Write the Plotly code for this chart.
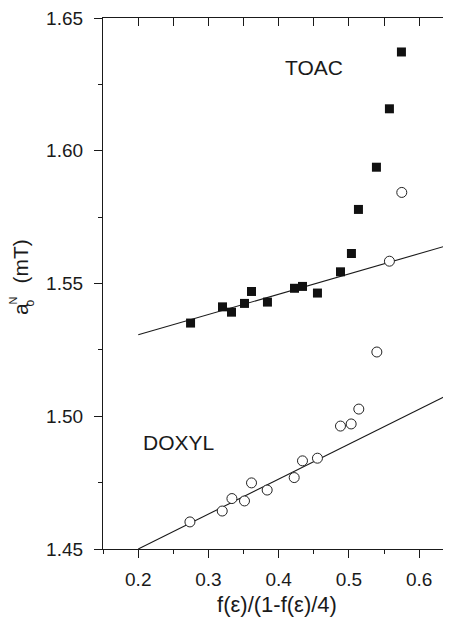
import plotly.graph_objects as go

# TOAC (filled squares)
toac_x = [0.2745, 0.320, 0.3328, 0.3513, 0.3613, 0.384, 0.4225, 0.4339, 0.4552,
          0.488, 0.5036, 0.5136, 0.5392, 0.5577, 0.5748]
toac_y = [1.5351, 1.5412, 1.5392, 1.5425, 1.5470, 1.5430, 1.5482, 1.5489, 1.5464,
          1.5544, 1.5613, 1.5779, 1.5938, 1.6158, 1.6372]

# DOXYL (open circles)
doxyl_x = [0.2736, 0.3196, 0.3334, 0.3513, 0.3613, 0.3836, 0.4221, 0.4339, 0.4552,
           0.488, 0.5032, 0.5141, 0.5398, 0.5577, 0.5753]
doxyl_y = [1.4602, 1.4643, 1.4690, 1.4681, 1.4749, 1.4722, 1.4769, 1.4832, 1.4842,
           1.4963, 1.4971, 1.5027, 1.5242, 1.5584, 1.5843]

# linear fits (end points)
toac_fit_x = [0.2, 0.6454]
toac_fit_y = [1.5307, 1.5647]
doxyl_fit_x = [0.2, 0.6454]
doxyl_fit_y = [1.4500, 1.5086]

x_range = [0.1498, 0.6454]
y_range = [1.45, 1.65]

ink = "#1a1a1a"
font_family = "Liberation Sans, Arial, sans-serif"

fig = go.Figure()
fig.add_trace(go.Scatter(x=toac_fit_x, y=toac_fit_y, mode="lines",
                         line=dict(color=ink, width=1.1), showlegend=False, hoverinfo="skip"))
fig.add_trace(go.Scatter(x=doxyl_fit_x, y=doxyl_fit_y, mode="lines",
                         line=dict(color=ink, width=1.1), showlegend=False, hoverinfo="skip"))
fig.add_trace(go.Scatter(x=toac_x, y=toac_y, mode="markers", name="TOAC",
                         marker=dict(symbol="square", size=9, color="#111111",
                                     line=dict(width=0)), showlegend=False))
fig.add_trace(go.Scatter(x=doxyl_x, y=doxyl_y, mode="markers", name="DOXYL",
                         marker=dict(symbol="circle", size=10, color="white",
                                     line=dict(width=1, color="#222222")), showlegend=False))
# helper trace for mirrored (top/right) axes
fig.add_trace(go.Scatter(x=[toac_x[0]], y=[toac_y[0]], xaxis="x2", yaxis="y2",
                         mode="markers", marker=dict(opacity=0), showlegend=False,
                         hoverinfo="skip"))

fig.add_annotation(x=0.4505, y=1.6313, text="TOAC", showarrow=False,
                   font=dict(size=21, color=ink, family=font_family))
fig.add_annotation(x=0.2579, y=1.4903, text="DOXYL", showarrow=False,
                   font=dict(size=21, color=ink, family=font_family))

# y-axis title pieces: a (subscript o, superscript N stacked) (mT)
ytitle_font = dict(color=ink, family=font_family)
fig.add_annotation(xref="paper", yref="paper", x=-0.2356, y=0.5414, text="(mT)",
                   textangle=-90, showarrow=False, xanchor="center", yanchor="middle",
                   font=dict(size=21, **ytitle_font))
fig.add_annotation(xref="paper", yref="paper", x=-0.2356, y=0.452, text="a",
                   textangle=-90, showarrow=False, xanchor="center", yanchor="middle",
                   font=dict(size=21, **ytitle_font))
fig.add_annotation(xref="paper", yref="paper", x=-0.2098, y=0.4642, text="o",
                   textangle=-90, showarrow=False, xanchor="center", yanchor="middle",
                   font=dict(size=12, **ytitle_font))
fig.add_annotation(xref="paper", yref="paper", x=-0.2572, y=0.4689, text="N",
                   textangle=-90, showarrow=False, xanchor="center", yanchor="middle",
                   font=dict(size=11, **ytitle_font))

axis_common = dict(showgrid=False, zeroline=False, showline=True, linecolor=ink,
                   linewidth=1.3, tickcolor=ink, tickwidth=1.2, automargin=False)

fig.update_layout(
    width=443, height=609,
    margin=dict(l=95, r=0, t=10, b=68),
    paper_bgcolor="white", plot_bgcolor="white",
    font=dict(family=font_family, color=ink, size=19),
    xaxis=dict(range=x_range, tickvals=[0.2, 0.3, 0.4, 0.5, 0.6],
               ticktext=["0.2", "0.3", "0.4", "0.5", "0.6"],
               ticks="outside", ticklen=8, ticklabelstandoff=5, ticklabeloverflow="allow",
               minor=dict(tickvals=[0.15, 0.25, 0.35, 0.45, 0.55], ticks="outside",
                          ticklen=4, tickcolor=ink, tickwidth=1.2),
               title=dict(text="f(ε)/(1-f(ε)/4)", font=dict(size=22), standoff=8),
               **axis_common),
    yaxis=dict(range=y_range, tickvals=[1.45, 1.50, 1.55, 1.60, 1.65],
               ticktext=["1.45", "1.50", "1.55", "1.60", "1.65"],
               ticks="outside", ticklen=8, ticklabelstandoff=7, ticklabeloverflow="allow",
               minor=dict(tickvals=[1.475, 1.525, 1.575, 1.625], ticks="outside",
                          ticklen=4, tickcolor=ink, tickwidth=1.2),
               **axis_common),
    xaxis2=dict(range=x_range, overlaying="x", side="top", matches="x",
                tickvals=[0.2, 0.25, 0.3, 0.35, 0.4, 0.45, 0.5, 0.55, 0.6],
                ticks="inside", ticklen=8, showticklabels=False, **axis_common),
    yaxis2=dict(range=y_range, overlaying="y", side="right", matches="y",
                tickvals=[1.50, 1.55, 1.60],
                ticks="inside", ticklen=5, showticklabels=False, automargin=False,
                minor=dict(tickvals=[1.475, 1.525, 1.575, 1.625], ticks="inside",
                           ticklen=2, tickcolor=ink, tickwidth=1.2),
                showgrid=False, zeroline=False, showline=False, tickcolor=ink, tickwidth=1.2),
)

fig.write_html("out.html")
